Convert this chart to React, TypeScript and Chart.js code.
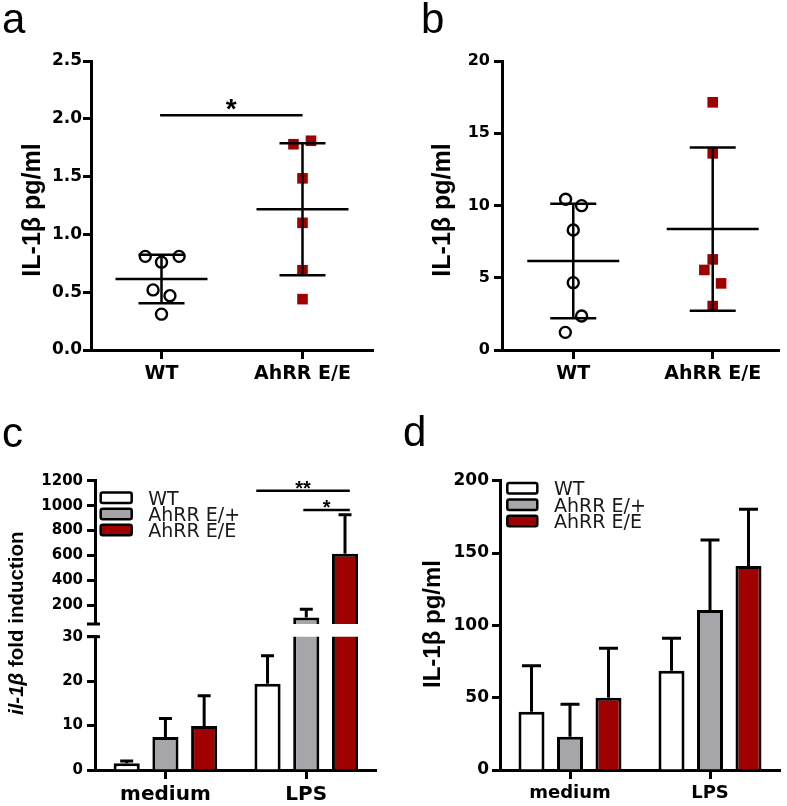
import React, { useEffect, useRef } from 'react';
import { Chart, registerables } from 'chart.js';

Chart.register(...registerables);

// ---------------- data ----------------
const dotGroups = ['WT', 'AhRR E/E'];

// panel a: IL-1β pg/ml (dot plot)
const aWT = [0.81, 0.81, 0.76, 0.52, 0.47, 0.31];
const aWTJitter = [-0.115, 0.125, 0, -0.06, 0.06, 0];
const aEE = [1.78, 1.81, 1.485, 1.1, 0.69, 0.44];
const aEEJitter = [-0.064, 0.06, 0, 0, 0, 0];
const aTicks = [0, 0.5, 1, 1.5, 2, 2.5];
const aSigLevel = [2.03];

// panel b: IL-1β pg/ml (dot plot)
const bWT = [10.43, 9.99, 8.3, 4.66, 2.35, 1.22];
const bWTJitter = [-0.055, 0.06, 0, 0, 0.06, -0.057];
const bEE = [17.14, 13.61, 6.27, 5.54, 4.61, 3.04];
const bEEJitter = [0, 0, 0, -0.06, 0.06, 0];
const bTicks = [0, 5, 10, 15, 20];

// panels c, d: grouped bars
const conditions = ['medium', 'LPS'];
const genotypes = ['WT', 'AhRR E/+', 'AhRR E/E'];
const genotypeColors = ['#ffffff', '#a6a6aa', '#a00000'];

const cWT = [1.5, 19.4];
const cHet = [7.4, 103];
const cHom = [9.9, 614];
const cWTErr = [0.5, 6.3];
const cHetErr = [4.2, 66];
const cHomErr = [6.8, 313];
const cTicksLow = [0, 10, 20, 30];
const cTicksHigh = [200, 400, 600, 800, 1000, 1200];
const cSigLevels = [1120, 965];
const cSigLabels = ['**', '*'];

const dWT = [40.3, 68.7];
const dHet = [23.0, 110.6];
const dHom = [50.0, 141.0];
const dWTErr = [31.8, 22.3];
const dHetErr = [22.4, 48.4];
const dHomErr = [34.1, 39.2];
const dTicks = [0, 50, 100, 150, 200];

// ---------------- helpers ----------------
const RED = '#a00000';
const mean = (v: number[]) => v.reduce((s, x) => s + x, 0) / v.length;
const sd = (v: number[]) => {
  const m = mean(v);
  return Math.sqrt(v.reduce((s, x) => s + (x - m) * (x - m), 0) / (v.length - 1));
};

function drawRotated(ctx: CanvasRenderingContext2D, parts: { text: string; font: string }[], cx: number, cy: number) {
  ctx.save();
  ctx.translate(cx, cy);
  ctx.rotate(-Math.PI / 2);
  ctx.textBaseline = 'middle';
  ctx.textAlign = 'left';
  ctx.fillStyle = '#000';
  let total = 0;
  const widths = parts.map((p) => {
    ctx.font = p.font;
    const w = ctx.measureText(p.text).width;
    total += w;
    return w;
  });
  let x = -total / 2;
  parts.forEach((p, i) => {
    ctx.font = p.font;
    ctx.fillText(p.text, x, 0);
    x += widths[i];
  });
  ctx.restore();
}

const panelText = (letter: string, lx: number, ly: number, parts: { text: string; font: string }[], tx: number, ty: number) => ({
  id: 'panelText',
  afterDraw(chart: any) {
    const ctx = chart.ctx as CanvasRenderingContext2D;
    ctx.save();
    ctx.fillStyle = '#000';
    ctx.font = '42px "Liberation Sans"';
    ctx.textBaseline = 'alphabetic';
    ctx.textAlign = 'left';
    ctx.fillText(letter, lx, ly);
    ctx.restore();
    drawRotated(ctx, parts, tx, ty);
  },
});

const dotStats = (groups: { x: number; values: number[] }[], meanHalf: number, capHalf: number) => ({
  id: 'dotStats',
  afterDatasetsDraw(chart: any) {
    const { ctx, scales } = chart;
    const xs = scales.x;
    const ys = scales.y;
    ctx.save();
    ctx.strokeStyle = '#000';
    ctx.lineWidth = 2.5;
    for (const g of groups) {
      const m = mean(g.values);
      const s = sd(g.values);
      const cx = xs.getPixelForValue(g.x);
      const ym = ys.getPixelForValue(m);
      const yu = ys.getPixelForValue(m + s);
      const yl = ys.getPixelForValue(m - s);
      ctx.beginPath();
      ctx.moveTo(cx - meanHalf, ym);
      ctx.lineTo(cx + meanHalf, ym);
      ctx.moveTo(cx - capHalf, yu);
      ctx.lineTo(cx + capHalf, yu);
      ctx.moveTo(cx - capHalf, yl);
      ctx.lineTo(cx + capHalf, yl);
      ctx.moveTo(cx, yu);
      ctx.lineTo(cx, yl);
      ctx.stroke();
    }
    ctx.restore();
  },
});

const sigLines = (items: { x0: number; x1: number; y: number; label: string; font: string; dy: number }[]) => ({
  id: 'sigLines',
  afterDraw(chart: any) {
    const { ctx, scales } = chart;
    ctx.save();
    ctx.strokeStyle = '#000';
    ctx.fillStyle = '#000';
    ctx.lineWidth = 2.5;
    for (const it of items) {
      const px0 = scales.x.getPixelForValue(it.x0);
      const px1 = scales.x.getPixelForValue(it.x1);
      const py = scales.y.getPixelForValue(it.y);
      ctx.beginPath();
      ctx.moveTo(px0, py);
      ctx.lineTo(px1, py);
      ctx.stroke();
      ctx.font = it.font;
      ctx.textAlign = 'center';
      ctx.textBaseline = 'alphabetic';
      ctx.fillText(it.label, (px0 + px1) / 2, py + it.dy);
    }
    ctx.restore();
  },
});

const errorBars = (errs: number[][], capHalf: number) => ({
  id: 'errorBars',
  afterDatasetsDraw(chart: any) {
    const { ctx, chartArea: a, scales } = chart;
    const ys = scales.y;
    ctx.save();
    ctx.beginPath();
    ctx.rect(a.left, a.top - 2, a.right - a.left, a.bottom - a.top + 2);
    ctx.clip();
    ctx.strokeStyle = '#000';
    ctx.lineWidth = 3;
    chart.data.datasets.forEach((ds: any, i: number) => {
      const meta = chart.getDatasetMeta(i);
      meta.data.forEach((el: any, j: number) => {
        const v = ds.data[j] as number;
        const yTop = ys.getPixelForValue(v + errs[i][j]);
        const yBase = ys.getPixelForValue(v);
        if (yBase <= a.top - 2) return;
        ctx.beginPath();
        ctx.moveTo(el.x, yBase);
        ctx.lineTo(el.x, yTop);
        ctx.moveTo(el.x - capHalf, yTop);
        ctx.lineTo(el.x + capHalf, yTop);
        ctx.stroke();
      });
    });
    ctx.restore();
  },
});

const boxLegend = (x0: number, y0: number, rowH: number, boxW: number, boxH: number, textX: number) => ({
  id: 'boxLegend',
  afterDraw(chart: any) {
    const ctx = chart.ctx as CanvasRenderingContext2D;
    ctx.save();
    chart.data.datasets.forEach((ds: any, i: number) => {
      const cy = y0 + i * rowH;
      ctx.beginPath();
      (ctx as any).roundRect(x0, cy - boxH / 2, boxW, boxH, 2);
      ctx.fillStyle = ds.backgroundColor;
      ctx.fill();
      ctx.lineWidth = 2.5;
      ctx.strokeStyle = '#000';
      ctx.stroke();
      ctx.fillStyle = '#1a1a1a';
      ctx.font = '19px "DejaVu Sans"';
      ctx.textAlign = 'left';
      ctx.textBaseline = 'alphabetic';
      ctx.fillText(ds.label, textX, cy + 7);
    });
    ctx.restore();
  },
});

const breakMark = (where: 'top' | 'bottom') => ({
  id: 'breakMark',
  afterDraw(chart: any) {
    const { ctx, chartArea: a } = chart;
    const y = where === 'top' ? a.top : a.bottom;
    ctx.save();
    ctx.strokeStyle = '#000';
    ctx.lineWidth = 3;
    ctx.beginPath();
    ctx.moveTo(a.left - 8, y);
    ctx.lineTo(a.left + 5, y);
    ctx.stroke();
    ctx.restore();
  },
});

const axisStyle = (tickLength: number) => ({
  grid: { display: true, drawOnChartArea: false, drawTicks: true, tickLength, tickWidth: 3, tickColor: '#000', offset: false },
  border: { display: true, width: 3, color: '#000' },
});

const tickFont = (size: number) => ({ family: 'DejaVu Sans', size, weight: 'bold' as const });

const baseOptions = (padding: any) => ({
  animation: false as const,
  responsive: false,
  events: [] as any[],
  layout: { padding },
  plugins: { legend: { display: false }, tooltip: { enabled: false } },
});

// ---------------- chart configs ----------------
function dotConfig(
  wt: number[], wtJ: number[], ee: number[], eeJ: number[], yTicks: number[],
  xMin: number, xMax: number, padding: any, yWidth: number, yFont: number, yPad: number,
  fmt: (v: number) => string, extraPlugins: any[]
): any {
  return {
    type: 'scatter',
    data: {
      datasets: [
        {
          label: dotGroups[0],
          data: wt.map((v, i) => ({ x: 1 + wtJ[i], y: v })),
          pointStyle: 'circle',
          pointRadius: 5.5,
          pointBorderWidth: 2.4,
          pointBorderColor: '#000',
          pointBackgroundColor: '#fff',
        },
        {
          label: dotGroups[1],
          data: ee.map((v, i) => ({ x: 2 + eeJ[i], y: v })),
          pointStyle: 'rect',
          pointRadius: 7.5,
          pointBorderWidth: 0,
          pointBorderColor: RED,
          pointBackgroundColor: RED,
        },
      ],
    },
    options: {
      ...baseOptions(padding),
      scales: {
        x: {
          type: 'linear',
          min: xMin,
          max: xMax,
          afterBuildTicks: (s: any) => { s.ticks = [{ value: 1 }, { value: 2 }]; },
          afterFit: (s: any) => { s.height = 40; },
          ticks: { callback: (v: any) => dotGroups[Math.round(v) - 1], font: tickFont(19), color: '#000', padding: 4, maxRotation: 0 },
          ...axisStyle(9),
        },
        y: {
          type: 'linear',
          min: yTicks[0],
          max: yTicks[yTicks.length - 1],
          afterBuildTicks: (s: any) => { s.ticks = yTicks.map((v) => ({ value: v })); },
          afterFit: (s: any) => { s.width = yWidth; },
          ticks: { callback: (v: any) => fmt(v), font: tickFont(yFont), color: '#000', padding: yPad },
          ...axisStyle(8),
        },
      },
    },
    plugins: [
      dotStats([{ x: 1, values: wt }, { x: 2, values: ee }], 46, 23),
      ...extraPlugins,
    ],
  };
}

function barDatasets(vals: number[][], clip: boolean) {
  return vals.map((v, i) => ({
    label: genotypes[i],
    data: v,
    backgroundColor: genotypeColors[i],
    borderColor: '#000',
    borderWidth: 3,
    categoryPercentage: 0.825,
    barPercentage: 0.675,
    ...(clip ? { clip: 0 } : {}),
  }));
}

function barY(ticks: number[], min: number, max: number, width: number, font: number, pad: number) {
  return {
    type: 'linear',
    min,
    max,
    afterBuildTicks: (s: any) => { s.ticks = ticks.map((v) => ({ value: v })); },
    afterFit: (s: any) => { s.width = width; },
    ticks: { callback: (v: any) => String(v), font: tickFont(font), color: '#000', padding: pad },
    ...axisStyle(8),
  };
}

function barX(show: boolean, font: number) {
  return {
    type: 'category',
    offset: true,
    display: show,
    afterFit: (s: any) => { s.height = show ? 36 : 0; },
    ticks: { font: tickFont(font), color: '#000', padding: 4, maxRotation: 0 },
    ...axisStyle(9),
  };
}

const titleBold = (size: number) => `bold ${size}px "Liberation Sans"`;

const configA = () =>
  dotConfig(aWT, aWTJitter, aEE, aEEJitter, aTicks, 0.5, 2.5,
    { top: 61, right: 20, bottom: 0, left: 0 }, 91, 17, 1, (v) => v.toFixed(1), [
      sigLines([{ x0: 0.99, x1: 2.0, y: aSigLevel[0], label: '*', font: 'bold 28px "Liberation Sans"', dy: 3 }]),
      panelText('a', 2, 33, [{ text: 'IL-1β pg/ml', font: titleBold(25) }], 33, 210),
    ]);

const configB = () =>
  dotConfig(bWT, bWTJitter, bEE, bEEJitter, bTicks, 0.489, 2.476,
    { top: 61, right: 7, bottom: 0, left: 0 }, 109, 16, 4, (v) => String(v), [
      panelText('b', 28, 33, [{ text: 'IL-1β pg/ml', font: titleBold(25) }], 50, 210),
    ]);

const configCTop = (): any => ({
  type: 'bar',
  data: { labels: conditions, datasets: barDatasets([cWT, cHet, cHom], true) },
  options: {
    ...baseOptions({ top: 90.7, right: 16.3, bottom: 12, left: 0 }),
    scales: { x: barX(false, 20), y: barY(cTicksHigh, 50, 1200, 95, 15, 4) },
  },
  plugins: [
    errorBars([cWTErr, cHetErr, cHomErr], 6.5),
    boxLegend(100.7, 107.7, 16.2, 31, 10.5, 148.3),
    sigLines([
      { x0: 0.645, x1: 1.309, y: cSigLevels[0], label: cSigLabels[0], font: 'bold 20px "Liberation Sans"', dy: 4 },
      { x0: 0.979, x1: 1.309, y: cSigLevels[1], label: cSigLabels[1], font: 'bold 20px "Liberation Sans"', dy: 4 },
    ]),
    breakMark('bottom'),
  ],
});

const configCBottom = (): any => ({
  type: 'bar',
  data: { labels: conditions, datasets: barDatasets([cWT, cHet, cHom], true) },
  options: {
    ...baseOptions({ top: 246.7, right: 16.3, bottom: 0, left: 0 }),
    scales: { x: barX(true, 20), y: barY(cTicksLow, 0, 30, 95, 15, 4) },
  },
  plugins: [
    errorBars([cWTErr, cHetErr, cHomErr], 6.5),
    breakMark('top'),
    panelText('c', 2, 57, [
      { text: 'il-1β', font: 'italic bold 20.5px "Liberation Sans"' },
      { text: ' fold induction', font: 'bold 20.5px "Liberation Sans"' },
    ], 17.3, 233.3),
  ],
});

const configD = (): any => ({
  type: 'bar',
  data: { labels: conditions, datasets: barDatasets([dWT, dHet, dHom], false) },
  options: {
    ...baseOptions({ top: 90.7, right: 7, bottom: 0, left: 0 }),
    scales: { x: barX(true, 18), y: barY(dTicks, 0, 200, 107, 17, 3) },
  },
  plugins: [
    errorBars([dWTErr, dHetErr, dHomErr], 9.5),
    boxLegend(114.3, 98.3, 16.4, 30, 10.5, 161),
    panelText('d', 10, 56, [{ text: 'IL-1β pg/ml', font: titleBold(24) }], 40.3, 234),
  ],
});

// ---------------- components ----------------
function ChartCanvas({ make, left, top, width, height }: { make: () => any; left: number; top: number; width: number; height: number }) {
  const ref = useRef<HTMLCanvasElement>(null);
  useEffect(() => {
    const chart = new Chart(ref.current as HTMLCanvasElement, make());
    return () => chart.destroy();
  }, []);
  return (
    <canvas
      ref={ref}
      width={width}
      height={height}
      style={{ position: 'absolute', left, top, width, height }}
    />
  );
}

export default function App() {
  return (
    <div style={{ position: 'absolute', left: 0, top: 0, width: 787, height: 806, background: '#fff', overflow: 'hidden' }}>
      <ChartCanvas make={configA} left={0} top={0} width={393} height={390} />
      <ChartCanvas make={configB} left={393} top={0} width={394} height={390} />
      <ChartCanvas make={configCBottom} left={0} top={390} width={393} height={416} />
      <ChartCanvas make={configCTop} left={0} top={390} width={393} height={247} />
      <ChartCanvas make={configD} left={393} top={390} width={394} height={416} />
    </div>
  );
}
